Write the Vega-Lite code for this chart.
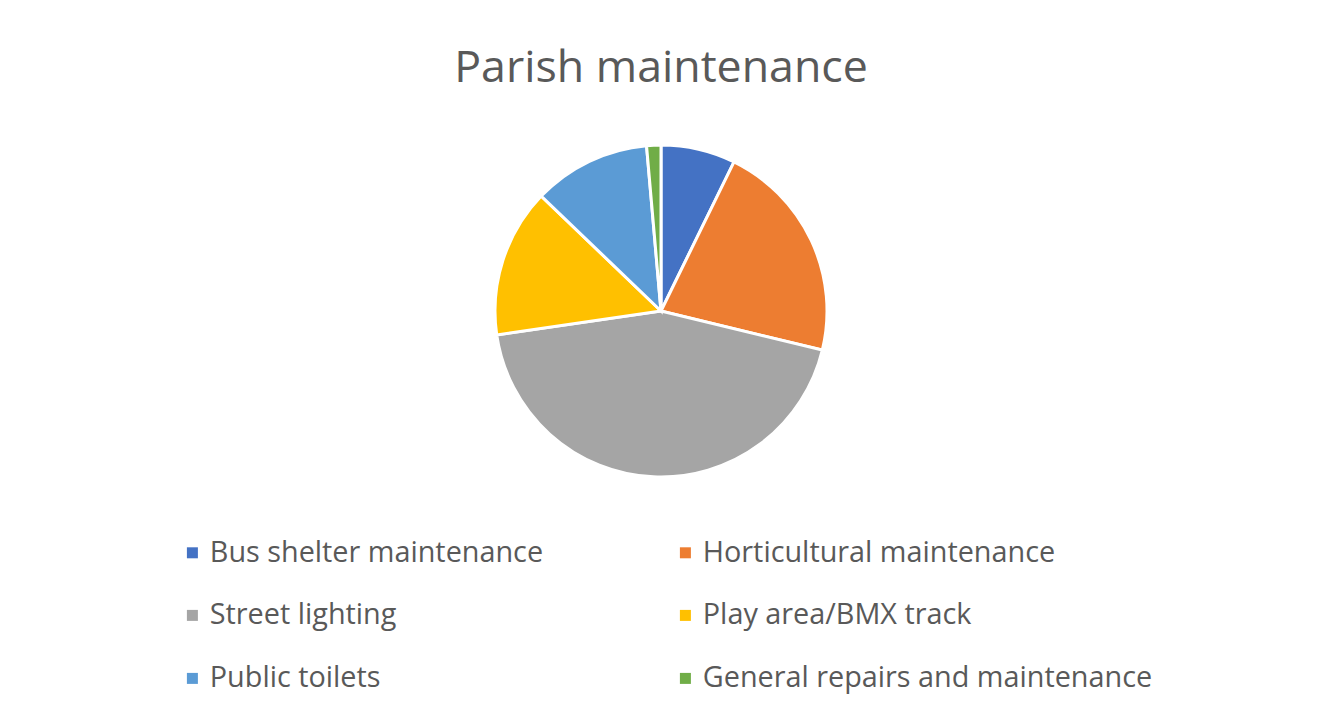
{
  "$schema": "https://vega.github.io/schema/vega-lite/v6.json",
  "width": 1312,
  "height": 362,
  "autosize": {"type": "none"},
  "padding": {"left": 5, "top": 130, "right": 5, "bottom": 230},
  "background": "white",
  "title": {
    "text": "Parish maintenance",
    "font": "Open Sans",
    "fontSize": 44.7,
    "fontWeight": "normal",
    "color": "#595959",
    "anchor": "middle",
    "offset": 38
  },
  "data": {
    "values": [
      {"idx": 1, "category": "Bus shelter maintenance", "share": 7.25},
      {"idx": 2, "category": "Horticultural maintenance", "share": 21.53},
      {"idx": 3, "category": "Street lighting", "share": 43.92},
      {"idx": 4, "category": "Play area/BMX track", "share": 14.47},
      {"idx": 5, "category": "Public toilets", "share": 11.44},
      {"idx": 6, "category": "General repairs and maintenance", "share": 1.39}
    ]
  },
  "mark": {"type": "arc", "outerRadius": 166, "stroke": "white", "strokeWidth": 3},
  "encoding": {
    "theta": {"field": "share", "type": "quantitative", "stack": true},
    "order": {"field": "idx", "type": "quantitative"},
    "color": {
      "field": "category",
      "type": "nominal",
      "scale": {
        "domain": ["Bus shelter maintenance", "Horticultural maintenance", "Street lighting", "Play area/BMX track", "Public toilets", "General repairs and maintenance"],
        "range": ["#4472C4", "#ED7D31", "#A5A5A5", "#FFC000", "#5B9BD5", "#70AD47"]
      },
      "legend": {
        "title": null,
        "orient": "none",
        "legendX": 173,
        "legendY": 408,
        "direction": "horizontal",
        "columns": 2,
        "gridAlign": "all",
        "columnPadding": 11,
        "rowPadding": 33,
        "symbolType": "square",
        "symbolSize": 121,
        "symbolStrokeWidth": 0,
        "labelOffset": 3,
        "labelFont": "Open Sans",
        "labelFontSize": 28.8,
        "labelColor": "#595959",
        "labelLimit": 0
      }
    }
  },
  "config": {"view": {"stroke": null}}
}
